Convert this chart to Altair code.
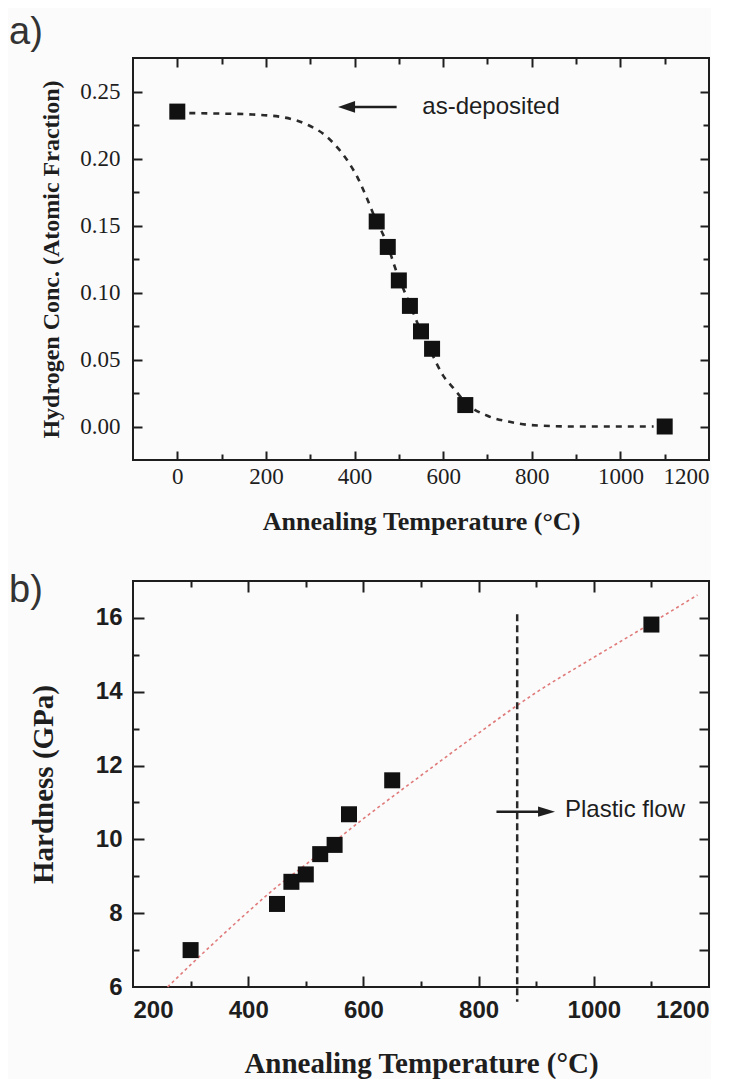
import altair as alt
import pandas as pd

# ---------------- panel a) data ----------------
a_temp = [0, 450, 475, 500, 525, 550, 575, 650, 1100]
a_conc = [0.235, 0.153, 0.134, 0.109, 0.090, 0.071, 0.058, 0.016, 0.000]
a_fit_temp = [0, 100, 160, 235, 295, 333, 363, 386, 408, 427, 442, 476, 491, 525,
              550, 575, 600, 625, 650, 700, 750, 800, 900, 1000, 1075]
a_fit_conc = [0.234, 0.2335, 0.233, 0.231, 0.225, 0.2175, 0.2075, 0.1975, 0.185, 0.171,
              0.159, 0.134, 0.119, 0.091, 0.071, 0.054, 0.038, 0.028, 0.018, 0.008,
              0.0035, 0.001, 0.0, 0.0, 0.0]
a_xlabels = [0, 200, 400, 600, 800, 1000, 1200]
a_xticks = [0, 100, 200, 300, 400, 500, 600, 700, 800, 900, 1000, 1100]
a_ylabels = [0.00, 0.05, 0.10, 0.15, 0.20, 0.25]
a_yticks = [0.0, 0.025, 0.05, 0.075, 0.10, 0.125, 0.15, 0.175, 0.20, 0.225, 0.25]
a_note = ["as-deposited"]
a_note_x = [553]
a_note_y = [0.2385]
a_arrow_x = [380, 495]
a_arrow_head_x = [382]

# ---------------- panel b) data ----------------
b_temp = [300, 450, 475, 500, 525, 550, 575, 650, 1100]
b_hard = [7.0, 8.25, 8.85, 9.05, 9.6, 9.85, 10.68, 11.6, 15.82]
b_fit_temp = [260, 300, 400, 450, 500, 600, 700, 800, 900, 1000, 1100, 1180]
b_fit_hard = [6.0, 6.6, 8.04, 8.72, 9.32, 10.56, 11.73, 12.88, 13.98, 14.93, 15.86, 16.62]
b_xlabels = [200, 400, 600, 800, 1000, 1200]
b_xticks = [300, 400, 500, 600, 700, 800, 900, 1000, 1100]
b_ylabels = [6, 8, 10, 12, 14, 16]
b_yticks = [7, 8, 9, 10, 11, 12, 13, 14, 15, 16]
b_vline_x = [867, 867]
b_vline_y = [16.1, 5.6]
b_note = ["Plastic flow"]
b_note_x = [950]
b_note_y = [10.8]
b_arrow_x = [831, 918]
b_arrow_y = 10.75

W = 576
HA = 402
HB = 406
INK = "#1e1e1e"
SERIF = "Liberation Serif"
SANS = "Liberation Sans"


def tick_axis(orient, offset, values, test, big, small):
    return alt.Axis(orient=orient, offset=offset, values=values, labels=False,
                    domain=False, grid=False, title=None, tickColor=INK, tickWidth=2,
                    tickSize={"condition": {"test": test, "value": big}, "value": small})


# ================= panel a =================
xa = alt.Scale(domain=[-100, 1200], nice=False, zero=False)
ya = alt.Scale(domain=[-0.025, 0.275], nice=False, zero=False)
ax_test = "datum.value % 200 === 0"
ay_test = "abs(datum.value * 20 - round(datum.value * 20)) < 0.000001"

pts_a = alt.Chart(pd.DataFrame({"t": a_temp, "c": a_conc})).mark_square(
    size=256, color="#111111", opacity=1
).encode(
    x=alt.X("t:Q", scale=xa, axis=alt.Axis(
        orient="bottom", values=a_xlabels, format="d", ticks=False, tickSize=0,
        domain=False, grid=False, labelFont=SERIF, labelFontSize=23, labelColor=INK,
        labelPadding=5, title="Annealing Temperature (°C)", titleFont=SERIF,
        titleFontSize=26, titleFontWeight="bold", titleColor=INK, titlePadding=20)),
    y=alt.Y("c:Q", scale=ya, axis=alt.Axis(
        orient="left", values=a_ylabels, format=".2f", ticks=False, tickSize=0,
        domain=False, grid=False, labelFont=SERIF, labelFontSize=23, labelColor=INK,
        labelPadding=13, title="Hydrogen Conc. (Atomic Fraction)", titleFont=SERIF,
        titleFontSize=24, titleFontWeight="bold", titleColor=INK, titlePadding=16)),
)

fit_a = alt.Chart(pd.DataFrame({"t": a_fit_temp, "c": a_fit_conc})).mark_line(
    color="#2a2a2a", strokeWidth=2.6, strokeDash=[6, 6], interpolate="monotone"
).encode(
    x=alt.X("t:Q", scale=xa, axis=tick_axis("top", -HA, a_xticks, ax_test, 9, 6)),
    y=alt.Y("c:Q", scale=ya, axis=tick_axis("right", -W, a_yticks, ay_test, 9, 6)),
)

arrow_a = alt.Chart(pd.DataFrame({"t": a_arrow_x, "c": [a_note_y[0]] * 2})).mark_line(
    color=INK, strokeWidth=2.5
).encode(
    x=alt.X("t:Q", scale=xa, axis=tick_axis("bottom", -HA, a_xticks, ax_test, 9, 6)),
    y=alt.Y("c:Q", scale=ya, axis=tick_axis("left", -W, a_yticks, ay_test, 9, 6)),
)

head_a = alt.Chart(pd.DataFrame({"t": a_arrow_head_x, "c": a_note_y})).mark_point(
    shape="M-1,0L1,-0.7L1,0.7Z", filled=True, size=289, color=INK, opacity=1
).encode(x=alt.X("t:Q", scale=xa, axis=None), y=alt.Y("c:Q", scale=ya, axis=None))

text_a = alt.Chart(pd.DataFrame({"t": a_note_x, "c": a_note_y, "s": a_note})).mark_text(
    align="left", baseline="middle", font=SANS, fontSize=24, color=INK
).encode(x=alt.X("t:Q", scale=xa, axis=None), y=alt.Y("c:Q", scale=ya, axis=None),
         text="s:N")

panel_a = alt.layer(fit_a, arrow_a, head_a, text_a, pts_a).resolve_axis(
    x="independent", y="independent"
).properties(
    width=W, height=HA,
    title=alt.TitleParams("a)", anchor="start", frame="group", dx=-124, offset=25,
                          dy=38.5, baseline="middle", font=SANS, fontSize=38,
                          fontWeight="normal", color="#333333"),
)

# ================= panel b =================
xb = alt.Scale(domain=[200, 1200], nice=False, zero=False)
yb = alt.Scale(domain=[6, 17], nice=False, zero=False)
bx_test = "datum.value % 200 === 0"
by_test = "datum.value % 2 === 0"

pts_b = alt.Chart(pd.DataFrame({"t": b_temp, "h": b_hard})).mark_square(
    size=256, color="#111111", opacity=1
).encode(
    x=alt.X("t:Q", scale=xb, axis=alt.Axis(
        orient="bottom", values=b_xlabels, format="d", ticks=False, tickSize=0,
        domain=False, grid=False, labelFont=SANS, labelFontSize=24,
        labelFontWeight="bold", labelColor=INK, labelPadding=11,
        title="Annealing Temperature (°C)", titleFont=SERIF, titleFontSize=29,
        titleFontWeight="bold", titleColor=INK, titlePadding=27)),
    y=alt.Y("h:Q", scale=yb, axis=alt.Axis(
        orient="left", values=b_ylabels, format="d", ticks=False, tickSize=0,
        domain=False, grid=False, labelFont=SANS, labelFontSize=24,
        labelFontWeight="bold", labelColor=INK, labelPadding=11,
        title="Hardness (GPa)", titleFont=SERIF, titleFontSize=29,
        titleFontWeight="bold", titleColor=INK, titlePadding=37)),
)

fit_b = alt.Chart(pd.DataFrame({"t": b_fit_temp, "h": b_fit_hard})).mark_line(
    color="#e07a7a", strokeWidth=1.6, strokeDash=[3, 3], interpolate="monotone"
).encode(
    x=alt.X("t:Q", scale=xb, axis=tick_axis("top", -HB, b_xticks, bx_test, 11, 6)),
    y=alt.Y("h:Q", scale=yb, axis=tick_axis("right", -W, b_yticks, by_test, 11, 6)),
)

vline_b = alt.Chart(pd.DataFrame({"t": b_vline_x, "h": b_vline_y})).mark_line(
    color="#2a2a2a", strokeWidth=2.5, strokeDash=[7, 4]
).encode(
    x=alt.X("t:Q", scale=xb, axis=tick_axis("bottom", -HB, b_xticks, bx_test, 11, 6)),
    y=alt.Y("h:Q", scale=yb, axis=tick_axis("left", -W, b_yticks, by_test, 10, 10)),
)

arrow_b = alt.Chart(pd.DataFrame({"t": b_arrow_x, "h": [b_arrow_y] * 2})).mark_line(
    color=INK, strokeWidth=2.5
).encode(x=alt.X("t:Q", scale=xb, axis=None), y=alt.Y("h:Q", scale=yb, axis=None))

head_b = alt.Chart(pd.DataFrame({"t": [b_arrow_x[1]], "h": [b_arrow_y]})).mark_point(
    shape="M1,0L-1,-0.6L-1,0.6Z", filled=True, size=289, color=INK, opacity=1
).encode(x=alt.X("t:Q", scale=xb, axis=None), y=alt.Y("h:Q", scale=yb, axis=None))

text_b = alt.Chart(pd.DataFrame({"t": b_note_x, "h": b_note_y, "s": b_note})).mark_text(
    align="left", baseline="middle", font=SANS, fontSize=24, color=INK
).encode(x=alt.X("t:Q", scale=xb, axis=None), y=alt.Y("h:Q", scale=yb, axis=None),
         text="s:N")

panel_b = alt.layer(fit_b, vline_b, arrow_b, head_b, text_b, pts_b).resolve_axis(
    x="independent", y="independent"
).properties(
    width=W, height=HB,
    title=alt.TitleParams("b)", anchor="start", frame="group", dx=-124, offset=25,
                          dy=73.5, baseline="middle", font=SANS, fontSize=38,
                          fontWeight="normal", color="#333333"),
)

chart = alt.vconcat(panel_a, panel_b, spacing=35).properties(
    padding={"top": 4, "left": 0, "right": 0, "bottom": 0},
    background="#fbfbfb",
).configure_view(stroke=INK, strokeWidth=2)

chart.save("out.html", embed_options={"renderer": "svg", "actions": False})
